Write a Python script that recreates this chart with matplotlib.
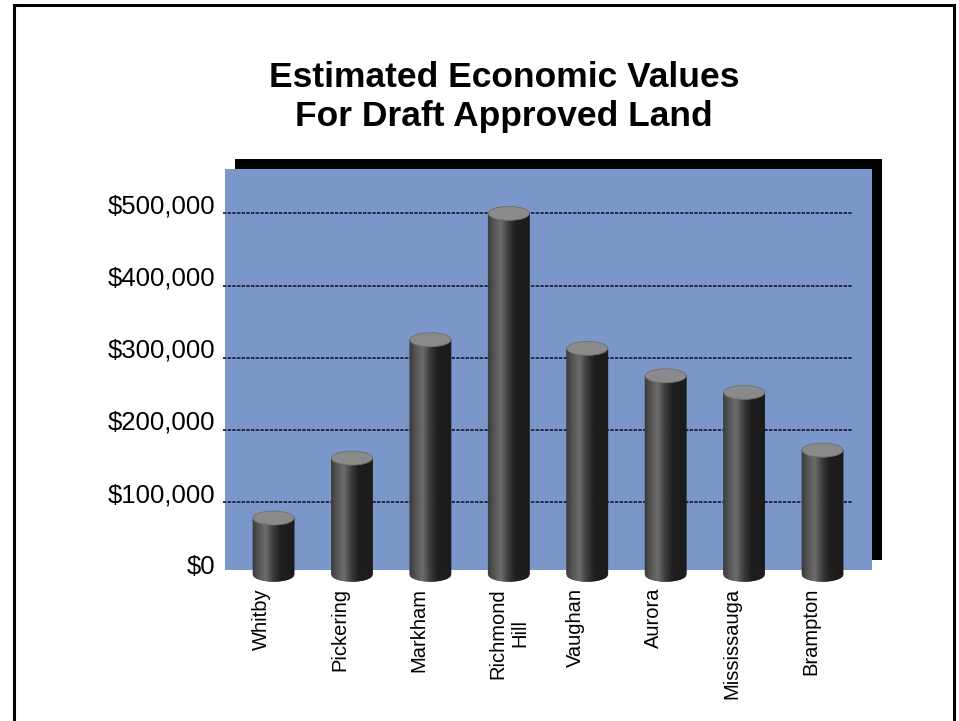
import matplotlib
matplotlib.use("Agg")
import matplotlib.pyplot as plt
import matplotlib.transforms as mtransforms
from matplotlib.collections import PolyCollection
from matplotlib.colors import LinearSegmentedColormap
from matplotlib.lines import Line2D
from matplotlib.patches import Ellipse, Rectangle
import numpy as np

# data
cities = ["Whitby", "Pickering", "Markham", "Richmond\nHill",
          "Vaughan", "Aurora", "Mississauga", "Brampton"]
values = [78000, 161000, 325000, 500000, 313000, 275000, 252000, 172000]
yticks = [0, 100000, 200000, 300000, 400000, 500000]
title = "Estimated Economic Values\nFor Draft Approved Land"

W, H, DPI = 959, 721, 100
BLUE = "#7b96c8"
BAR_W = 0.523
CAP_H = 19400       # height of the cylinder's end ellipse, in data units

plt.rcParams["font.family"] = ["Liberation Sans", "DejaVu Sans"]
plt.rcParams["hatch.color"] = "#9ccfc4"
plt.rcParams["hatch.linewidth"] = 0.8

shade = LinearSegmentedColormap.from_list(
    "cyl",
    [(0.0, "#3a3a3a"), (0.15, "#555555"), (0.32, "#6c6c6c"),
     (0.5, "#3c3c3c"), (0.68, "#1e1e1e"), (1.0, "#1b1b1b")])

fig = plt.figure(figsize=(W / DPI, H / DPI), dpi=DPI)
ax = fig.add_axes([225 / W, 1 - 570 / H, 647 / W, 401 / H])
ax.set_facecolor(BLUE)
ax.patch.set_hatch("...")
ax.set_xlim(-0.619, 7.631)
ax.set_ylim(6000, 561500)
ax.set_xticks([])
ax.set_yticks([])
for s in ax.spines.values():
    s.set_visible(False)

# drop shadow behind the plot area
fig.add_artist(Rectangle((235 / W, 1 - 560 / H), 647 / W, 401 / H,
                         transform=fig.transFigure, facecolor="black",
                         edgecolor="none", zorder=-1))

# dashed gridlines
ax.hlines(yticks[1:], -0.65, 7.39, colors="#15152a", linewidth=1.2,
          linestyles=(0, (2, 0.8)), zorder=2, clip_on=False)

# cylinders
n = 40
for i, v in enumerate(values):
    xs = np.linspace(i - BAR_W / 2, i + BAR_W / 2, n + 1)
    u = (xs - i) / (BAR_W / 2)
    yb = -CAP_H / 2 * np.sqrt(np.clip(1 - u ** 2, 0, 1))
    polys, cols = [], []
    for k in range(n):
        polys.append([(xs[k], v), (xs[k + 1], v), (xs[k + 1], yb[k + 1]), (xs[k], yb[k])])
        cols.append(shade((k + 0.5) / n))
    pc = PolyCollection(polys, facecolors=cols, edgecolors=cols, linewidths=0.6,
                        zorder=3, clip_on=False)
    ax.add_collection(pc)
    ax.add_patch(Ellipse((i, v), BAR_W, CAP_H, facecolor="#8a8a8a",
                         edgecolor="#6f6f6f", linewidth=0.6, zorder=4, clip_on=False))

# y labels
ytrans = mtransforms.blended_transform_factory(ax.transAxes, ax.transData)
for v in yticks:
    ax.text(0, v, f"${v:,.0f}", transform=ytrans + mtransforms.ScaledTranslation(
        -10 / DPI, 7 / DPI, fig.dpi_scale_trans),
        ha="right", va="center", fontsize=18.5, color="black")

# x labels
xtrans = mtransforms.blended_transform_factory(ax.transData, ax.transAxes)
for i, c in enumerate(cities):
    dx = 0 if "\n" in c else -12
    ax.text(i, 0, c, transform=xtrans + mtransforms.ScaledTranslation(
        dx / DPI, -18 / DPI, fig.dpi_scale_trans),
        rotation=90, ha="center", va="top", multialignment="center",
        fontsize=14.5, color="black")

fig.text(504 / W, 1 - 97 / H, title, ha="center", va="center",
         fontsize=25.5, fontweight="bold", linespacing=1.2)

# page frame
lw = 2.2
fig.add_artist(Line2D([13.5 / W, 13.5 / W], [0, 1 - 4.5 / H], color="black", lw=lw))
fig.add_artist(Line2D([13.5 / W, 954 / W], [1 - 4.5 / H, 1 - 4.5 / H], color="black", lw=lw))
fig.add_artist(Line2D([954 / W, 954 / W], [0, 1 - 4.5 / H], color="black", lw=lw))

fig.savefig("out.png", dpi=DPI)
